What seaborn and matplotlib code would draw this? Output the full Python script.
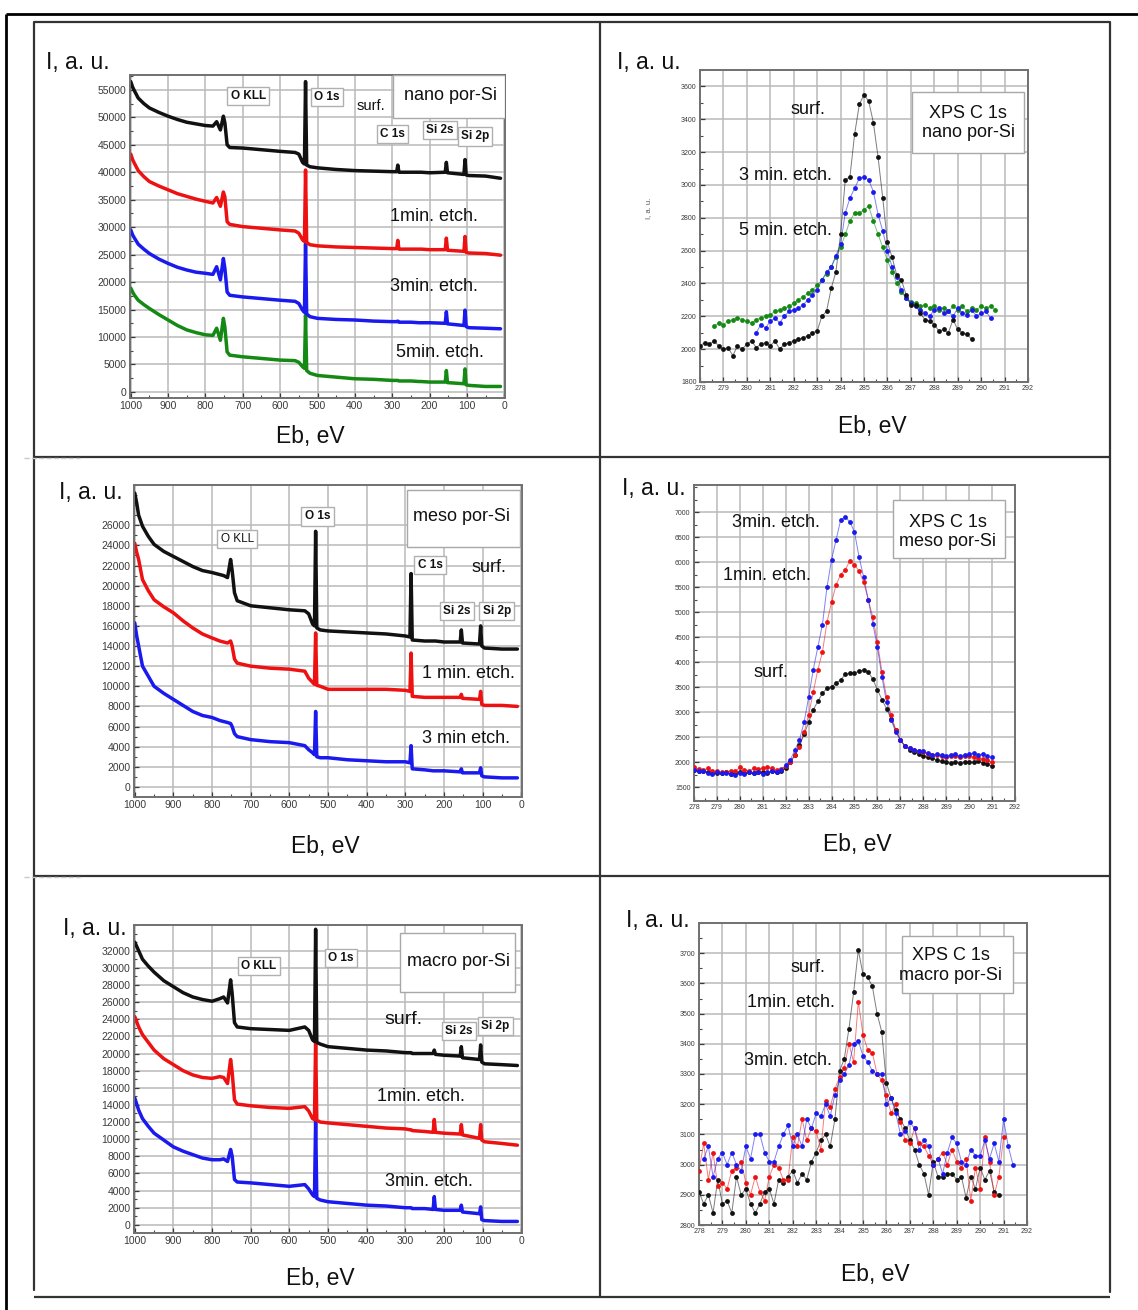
import numpy as np
import pandas as pd
import matplotlib
matplotlib.use("Agg")
import matplotlib.pyplot as plt
import seaborn as sns
from matplotlib.ticker import AutoMinorLocator
from matplotlib.patches import Rectangle

# ---------------- data ----------------
SURVEY_X = [1000, 995, 990, 980, 965, 950, 925, 900, 875, 850,
            825, 800, 780, 770, 760, 752, 748, 742, 735, 700,
            650, 600, 560, 550, 540, 535, 532, 529, 520, 500,
            450, 400, 350, 300, 288, 285, 282, 250, 228, 225,
            222, 200, 158, 155, 152, 108, 105, 102, 95, 50, 10]

nano_surf = [56500, 55500, 54800, 53500, 52500, 51700, 50900, 50200, 49600, 49100,
             48800, 48500, 48400, 49200, 47700, 50200, 49000, 45000, 44500, 44400,
             44100, 43800, 43600, 43300, 41800, 41500, 56500, 41300, 41000, 40800,
             40500, 40300, 40200, 40100, 40100, 41300, 40000, 40000, 40000, 40000,
             40000, 39900, 40000, 41800, 39900, 39600, 42300, 39500, 39400, 39300, 38900]
nano_1min = [43300, 42300, 41600, 40300, 39200, 38300, 37500, 36800, 36100, 35600,
             35100, 34700, 34400, 35400, 33800, 36400, 35500, 31000, 30500, 30100,
             29800, 29500, 29300, 28900, 27700, 27400, 40400, 27200, 26800, 26600,
             26400, 26300, 26200, 26100, 26100, 27600, 26000, 26000, 26000, 26000,
             26000, 25900, 25900, 28000, 25800, 25600, 28300, 25400, 25300, 25200, 24900]
nano_3min = [29500, 28600, 28000, 26900, 26000, 25200, 24200, 23400, 22700, 22200,
             21800, 21600, 21400, 22800, 20400, 24300, 22500, 18200, 17600, 17300,
             17000, 16700, 16500, 16100, 14900, 14500, 27000, 14200, 13700, 13400,
             13200, 13100, 12900, 12800, 12800, 12900, 12700, 12700, 12600, 12600,
             12600, 12600, 12500, 14600, 12400, 12100, 14900, 11900, 11700, 11600, 11500]
nano_5min = [18900, 18200, 17600, 16700, 15900, 15200, 14100, 13100, 12100, 11300,
             10800, 10400, 10300, 11600, 9400, 13400, 11800, 7300, 6700, 6400,
             6100, 5800, 5700, 5400, 4600, 4300, 14000, 3900, 3400, 3000,
             2700, 2400, 2300, 2100, 2100, 2100, 2000, 2000, 1900, 1900,
             1900, 1800, 1800, 3900, 1700, 1500, 4200, 1300, 1200, 1000, 1000]

meso_surf = [29200, 28200, 27000, 25900, 24900, 24100, 23400, 22900, 22400, 21900,
             21500, 21300, 21100, 21000, 20800, 22600, 21500, 19300, 18500, 18000,
             17800, 17600, 17500, 17200, 16200, 16000, 25400, 15800, 15600, 15500,
             15400, 15300, 15200, 15000, 14900, 21200, 14600, 14500, 14500, 14500,
             14500, 14400, 14400, 15600, 14300, 14200, 16000, 14000, 13800, 13700, 13700]
meso_1min = [24200, 23300, 22600, 20600, 19500, 18600, 17900, 17300, 16500, 15800,
             15200, 14800, 14500, 14400, 14300, 14500, 14000, 12700, 12300, 12000,
             11800, 11700, 11500, 10800, 10400, 10200, 15300, 10100, 10000, 9700,
             9700, 9700, 9700, 9600, 9500, 13300, 9000, 8900, 8900, 8900,
             8900, 8900, 8900, 9200, 8800, 8700, 9500, 8200, 8100, 8100, 8000]
meso_3min = [16300, 15000, 14000, 12000, 11000, 10000, 9300, 8700, 8100, 7500,
             7100, 6900, 6600, 6500, 6400, 6300, 6000, 5300, 5000, 4700,
             4500, 4400, 4100, 3700, 3400, 3200, 7500, 3000, 2900, 2900,
             2700, 2600, 2500, 2500, 2400, 4100, 1800, 1700, 1600, 1600,
             1600, 1600, 1500, 1800, 1400, 1400, 1900, 1100, 1000, 900, 900]

macro_surf = [33000, 32500, 32000, 31000, 30200, 29500, 28500, 27800, 27100, 26600,
              26300, 26100, 26400, 26600, 25900, 28600, 27000, 23600, 23100, 22900,
              22800, 22700, 23100, 22700, 21600, 21400, 34500, 21300, 21100, 20800,
              20600, 20400, 20300, 20100, 20100, 20100, 20000, 20000, 20000, 20400,
              19900, 19800, 19700, 20800, 19500, 19300, 21000, 19000, 18800, 18700, 18600]
macro_1min = [24300, 23700, 23100, 22200, 21300, 20400, 19400, 18700, 18000, 17500,
              17200, 17100, 17300, 17200, 16500, 19300, 17800, 14600, 14100, 13900,
              13700, 13600, 13800, 13300, 12400, 12300, 21600, 12200, 12000, 11900,
              11700, 11500, 11300, 11200, 11100, 11100, 11000, 10900, 10800, 12300,
              10800, 10700, 10600, 11700, 10500, 10100, 11700, 9900, 9700, 9500, 9300]
macro_3min = [14800, 14100, 13400, 12400, 11500, 10700, 9900, 9100, 8600, 8200,
              7800, 7600, 7600, 7700, 7400, 8800, 8000, 5300, 5000, 4900,
              4700, 4500, 4700, 4200, 3500, 3300, 12200, 3100, 2900, 2700,
              2500, 2300, 2200, 2000, 2000, 2000, 1900, 1900, 1800, 3300,
              1800, 1700, 1700, 2300, 1500, 1300, 2100, 600, 500, 400, 400]

C1S_X = [278.0, 278.2, 278.4, 278.6, 278.8, 279.0, 279.2, 279.4, 279.6, 279.8,
         280.0, 280.2, 280.4, 280.6, 280.8, 281.0, 281.2, 281.4, 281.6, 281.8,
         282.0, 282.2, 282.4, 282.6, 282.8, 283.0, 283.2, 283.4, 283.6, 283.8,
         284.0, 284.2, 284.4, 284.6, 284.8, 285.0, 285.2, 285.4, 285.6, 285.8,
         286.0, 286.2, 286.4, 286.6, 286.8, 287.0, 287.2, 287.4, 287.6, 287.8,
         288.0, 288.2, 288.4, 288.6, 288.8, 289.0, 289.2, 289.4, 289.6, 289.8,
         290.0, 290.2, 290.4, 290.6, 290.8, 291.0, 291.2, 291.4]

# nano C1s (start energies: surf 278.0, 3 min 280.4, 5 min 278.6)
nano_c1s_surf = [2020, 2040, 2030, 2050, 2020, 2000, 2010, 1960, 2020, 2000,
                 2030, 2050, 2010, 2030, 2040, 2020, 2050, 2000, 2030, 2040,
                 2050, 2060, 2070, 2080, 2100, 2110, 2200, 2230, 2370, 2470,
                 2700, 3030, 3050, 3310, 3490, 3550, 3510, 3380, 3170, 2920,
                 2650, 2560, 2450, 2420, 2330, 2270, 2270, 2220, 2180, 2170,
                 2150, 2110, 2120, 2100, 2180, 2120, 2100, 2090, 2060]
nano_c1s_3min = [2100, 2150, 2130, 2170, 2190, 2160, 2200, 2230, 2240, 2250,
                 2270, 2300, 2330, 2360, 2420, 2470, 2500, 2570, 2640, 2830,
                 2920, 2980, 3040, 3050, 3030, 2960, 2820, 2720, 2600, 2500,
                 2440, 2360, 2310, 2280, 2260, 2240, 2220, 2200, 2240, 2250,
                 2220, 2230, 2200, 2250, 2220, 2210, 2240, 2200, 2220, 2230, 2190]
nano_c1s_5min = [2140, 2160, 2150, 2170, 2180, 2190, 2180, 2170, 2160, 2180,
                 2190, 2200, 2210, 2230, 2240, 2250, 2260, 2280, 2300, 2320,
                 2340, 2360, 2390, 2420, 2460, 2500, 2560, 2620, 2700, 2780,
                 2830, 2830, 2850, 2870, 2780, 2700, 2620, 2540, 2470, 2400,
                 2350, 2310, 2290, 2280, 2260, 2270, 2250, 2260, 2240, 2250,
                 2230, 2260, 2240, 2260, 2230, 2250, 2240, 2260, 2250, 2260, 2240]

# meso C1s (all start at 278.0)
meso_c1s_surf = [1850, 1830, 1820, 1800, 1780, 1790, 1780, 1800, 1770, 1790,
                 1810, 1790, 1800, 1780, 1810, 1800, 1790, 1820, 1810, 1830,
                 1880, 2000, 2150, 2350, 2560, 2800, 3050, 3220, 3380, 3480,
                 3510, 3580, 3650, 3760, 3780, 3790, 3820, 3850, 3810, 3660,
                 3450, 3250, 3070, 2870, 2650, 2450, 2320, 2250, 2210, 2160,
                 2120, 2100, 2080, 2040, 2020, 2000, 1980, 2010, 1980, 2000,
                 2010, 2000, 2020, 1990, 1960, 1920]
meso_c1s_1min = [1900, 1870, 1850, 1880, 1830, 1820, 1800, 1810, 1830, 1820,
                 1900, 1850, 1830, 1880, 1870, 1890, 1900, 1880, 1850, 1870,
                 1920, 2000, 2150, 2300, 2600, 2950, 3400, 3850, 4200, 4800,
                 5200, 5550, 5750, 5850, 6030, 5950, 5820, 5600, 5250, 4900,
                 4400, 3800, 3300, 2950, 2650, 2450, 2330, 2280, 2240, 2230,
                 2200, 2170, 2150, 2150, 2130, 2100, 2120, 2130, 2100, 2120,
                 2130, 2100, 2080, 2060, 2050, 2000]
meso_c1s_3min = [1850, 1820, 1830, 1790, 1760, 1800, 1780, 1790, 1760, 1740,
                 1780, 1770, 1800, 1790, 1800, 1760, 1810, 1830, 1800, 1850,
                 1950, 2050, 2250, 2450, 2800, 3300, 3850, 4300, 4750, 5500,
                 6050, 6450, 6850, 6900, 6800, 6600, 6100, 5700, 5250, 4770,
                 4300, 3700, 3200, 2850, 2600, 2450, 2330, 2280, 2250, 2230,
                 2220, 2180, 2150, 2170, 2140, 2130, 2150, 2160, 2130, 2150,
                 2160, 2190, 2150, 2170, 2120, 2100]

# macro C1s (surf 278.0, 1 min 278.0, 3 min 278.2)
macro_c1s_surf = [2910, 2870, 2900, 2840, 2950, 2870, 2880, 2840, 2960, 2900,
                  2920, 2870, 2840, 2870, 2910, 2920, 2870, 2950, 2940, 2960,
                  2980, 2940, 2970, 2950, 3010, 3040, 3080, 3100, 3060, 3150,
                  3310, 3350, 3450, 3570, 3710, 3630, 3620, 3590, 3500, 3440,
                  3270, 3220, 3180, 3150, 3120, 3080, 3050, 3000, 2970, 2900,
                  3010, 2960, 2960, 2970, 2970, 2950, 2960, 2890, 2960, 2920,
                  2990, 2950, 2980, 2910, 2900]
macro_c1s_1min = [2980, 3070, 2950, 3040, 2930, 2940, 2920, 2980, 2990, 3010,
                  2940, 2900, 2960, 2910, 2880, 2960, 3000, 2990, 2950, 2950,
                  3090, 3060, 3150, 3080, 3120, 3110, 3050, 3210, 3190, 3250,
                  3290, 3320, 3400, 3340, 3540, 3430, 3380, 3370, 3300, 3280,
                  3230, 3170, 3200, 3140, 3080, 3070, 3120, 3070, 3060, 3030,
                  3000, 3020, 3040, 3000, 3050, 3010, 2990, 3020, 2880, 2990,
                  2920, 3090, 3010, 2900, 2960, 3090]
macro_c1s_3min = [3020, 3060, 2960, 3020, 3040, 3000, 3040, 3000, 2980, 3060,
                  3020, 3100, 3100, 3040, 3010, 3010, 3060, 3100, 3130, 3060,
                  3100, 3060, 3150, 3120, 3170, 3160, 3200, 3160, 3230, 3280,
                  3300, 3330, 3400, 3410, 3360, 3340, 3310, 3300, 3300, 3200,
                  3220, 3170, 3100, 3110, 3140, 3120, 3050, 3080, 3060, 3000,
                  3020, 2970, 3040, 3090, 3070, 3010, 3000, 3050, 3030, 3030,
                  3080, 3020, 3070, 3010, 3150, 3060, 3000]

SURVEY_XTICKS = [1000, 900, 800, 700, 600, 500, 400, 300, 200, 100, 0]
C1S_XTICKS = [278, 279, 280, 281, 282, 283, 284, 285, 286, 287, 288, 289, 290, 291, 292]

BLACK, RED, BLUE, GREEN = "#111111", "#ee1111", "#1a1aee", "#148a14"

# ---------------- figure ----------------
sns.set_theme(style="white")
plt.rcParams['font.family'] = ['Liberation Sans', 'DejaVu Sans']

W, H = 1138, 1310
fig = plt.figure(figsize=(W / 100, H / 100), dpi=100)
fig.patch.set_facecolor("white")

bg = fig.add_axes([0, 0, 1, 1])
bg.set_xlim(0, W)
bg.set_ylim(H, 0)
bg.axis("off")


def px_axes(x0, y0, x1, y1):
    return fig.add_axes([x0 / W, 1 - y1 / H, (x1 - x0) / W, (y1 - y0) / H])


def style(ax, xlim, ylim, xticks, yticks, fs):
    ax.set_xlim(*xlim)
    ax.set_ylim(*ylim)
    ax.set_xticks(xticks)
    ax.set_yticks(yticks)
    ax.xaxis.set_minor_locator(AutoMinorLocator(2))
    ax.yaxis.set_minor_locator(AutoMinorLocator(2))
    ax.grid(True, which="major", color="#b9b9b9", lw=1.1)
    ax.set_axisbelow(True)
    ax.tick_params(which="major", direction="in", length=3.5, width=0.9,
                   labelsize=fs, colors="#3a3a3a", pad=2.5,
                   bottom=True, left=True)
    ax.tick_params(which="minor", direction="in", length=2, width=0.8,
                   colors="#4a4a4a", bottom=True, left=True)
    for s in ax.spines.values():
        s.set_color("#707070")
        s.set_linewidth(1.4)
    ax.set_xlabel("")
    ax.set_ylabel("")
    ax.set_facecolor("white")


def survey(ax, ys, color):
    sns.lineplot(x=SURVEY_X, y=ys, ax=ax, color=color, lw=2.5,
                 estimator=None, sort=False, legend=False)


def c1s(ax, ys, color, start):
    i0 = C1S_X.index(start)
    xs = C1S_X[i0:i0 + len(ys)]
    sns.lineplot(x=xs, y=ys, ax=ax, color=color, lw=0.7, alpha=0.55,
                 estimator=None, sort=False, legend=False)
    sns.scatterplot(x=xs, y=ys, ax=ax, color=color, s=12, linewidth=0,
                    legend=False, zorder=3)


def tag(ax, x, y, s, fs=8.5, bold=True):
    ax.text(x, y, s, transform=ax.transAxes, ha="center", va="center",
            fontsize=fs, fontweight="bold" if bold else "normal", color="#111",
            bbox=dict(boxstyle="square,pad=0.28", fc="white", ec="#b0b0b0", lw=1.0),
            zorder=6)


def label(ax, x, y, s, fs=13):
    ax.text(x, y, s, transform=ax.transAxes, ha="center", va="center",
            fontsize=fs, color="#111", zorder=6)


def box(ax, x0, y0, x1, y1):
    ax.add_patch(Rectangle((x0, y0), x1 - x0, y1 - y0, transform=ax.transAxes,
                           fc="white", ec="#a8a8a8", lw=1.0, zorder=4))


# ---- panel 1: nano survey
ax1 = px_axes(130, 75, 505, 398)
style(ax1, (1002, -2), (-1100, 57700), SURVEY_XTICKS, list(range(0, 55001, 5000)), 7.5)
survey(ax1, nano_5min, GREEN)
survey(ax1, nano_3min, BLUE)
survey(ax1, nano_1min, RED)
survey(ax1, nano_surf, BLACK)
box(ax1, 0.70, 0.867, 1.0, 1.0)
label(ax1, 0.856, 0.938, "nano por-Si")
tag(ax1, 0.315, 0.935, "O KLL")
tag(ax1, 0.526, 0.932, "O 1s")
label(ax1, 0.642, 0.905, "surf.", fs=10.5)
tag(ax1, 0.70, 0.817, "C 1s")
tag(ax1, 0.826, 0.83, "Si 2s")
tag(ax1, 0.92, 0.81, "Si 2p")
label(ax1, 0.81, 0.563, "1min. etch.")
label(ax1, 0.81, 0.344, "3min. etch.")
label(ax1, 0.826, 0.142, "5min. etch.")

# ---- panel 2: nano C1s
ax2 = px_axes(700, 70, 1028, 382)
style(ax2, (278, 292), (1800, 3700), C1S_XTICKS, list(range(1800, 3601, 200)), 5)
c1s(ax2, nano_c1s_5min, GREEN, 278.6)
c1s(ax2, nano_c1s_3min, BLUE, 280.4)
c1s(ax2, nano_c1s_surf, BLACK, 278.0)
box(ax2, 0.646, 0.734, 0.988, 0.929)
label(ax2, 0.818, 0.83, "XPS C 1s\nnano por-Si")
label(ax2, 0.33, 0.872, "surf.")
label(ax2, 0.26, 0.663, "3 min. etch.")
label(ax2, 0.26, 0.487, "5 min. etch.")

# ---- panel 3: meso survey
ax3 = px_axes(134, 485, 522, 797)
style(ax3, (1002, -2), (-1000, 30000), SURVEY_XTICKS, list(range(0, 26001, 2000)), 7.5)
survey(ax3, meso_3min, BLUE)
survey(ax3, meso_1min, RED)
survey(ax3, meso_surf, BLACK)
box(ax3, 0.704, 0.80, 0.995, 0.984)
label(ax3, 0.843, 0.90, "meso por-Si")
tag(ax3, 0.266, 0.827, "O KLL", bold=False)
tag(ax3, 0.473, 0.90, "O 1s")
tag(ax3, 0.763, 0.744, "C 1s")
label(ax3, 0.914, 0.737, "surf.")
tag(ax3, 0.832, 0.596, "Si 2s")
tag(ax3, 0.935, 0.596, "Si 2p")
label(ax3, 0.862, 0.397, "1 min. etch.")
label(ax3, 0.855, 0.189, "3 min etch.")

# ---- panel 4: meso C1s
ax4 = px_axes(694, 485, 1015, 801)
style(ax4, (278, 292), (1230, 7540), C1S_XTICKS, list(range(1500, 7001, 500)), 5)
c1s(ax4, meso_c1s_surf, BLACK, 278.0)
c1s(ax4, meso_c1s_1min, RED, 278.0)
c1s(ax4, meso_c1s_3min, BLUE, 278.0)
box(ax4, 0.621, 0.769, 0.97, 0.953)
label(ax4, 0.79, 0.851, "XPS C 1s\nmeso por-Si")
label(ax4, 0.256, 0.88, "3min. etch.")
label(ax4, 0.226, 0.715, "1min. etch.")
label(ax4, 0.24, 0.408, "surf.")

# ---- panel 5: macro survey
ax5 = px_axes(134, 925, 522, 1233)
style(ax5, (1002, -2), (-950, 35000), SURVEY_XTICKS, list(range(0, 32001, 2000)), 7.5)
survey(ax5, macro_3min, BLUE)
survey(ax5, macro_1min, RED)
survey(ax5, macro_surf, BLACK)
box(ax5, 0.686, 0.782, 0.982, 0.974)
label(ax5, 0.837, 0.883, "macro por-Si")
tag(ax5, 0.322, 0.867, "O KLL")
tag(ax5, 0.533, 0.893, "O 1s")
label(ax5, 0.695, 0.692, "surf.", fs=14)
tag(ax5, 0.837, 0.656, "Si 2s")
tag(ax5, 0.932, 0.672, "Si 2p")
label(ax5, 0.74, 0.442, "1min. etch.")
label(ax5, 0.76, 0.166, "3min. etch.")

# ---- panel 6: macro C1s
ax6 = px_axes(699, 923, 1027, 1225)
style(ax6, (278, 292), (2800, 3800), C1S_XTICKS, list(range(2800, 3701, 100)), 5)
c1s(ax6, macro_c1s_surf, BLACK, 278.0)
c1s(ax6, macro_c1s_1min, RED, 278.0)
c1s(ax6, macro_c1s_3min, BLUE, 278.2)
box(ax6, 0.62, 0.768, 0.956, 0.957)
label(ax6, 0.767, 0.86, "XPS C 1s\nmacro por-Si")
label(ax6, 0.333, 0.854, "surf.")
label(ax6, 0.28, 0.738, "1min. etch.")
label(ax6, 0.27, 0.546, "3min. etch.")

# ---- axis titles in figure pixels
for (x, y) in [(46, 62), (617, 62), (59, 493), (622, 488), (63, 928), (626, 920)]:
    bg.text(x, y, "I, a. u.", ha="left", va="center", fontsize=16.5, color="#111")
for (x, y) in [(310, 437), (872, 427), (325, 847), (857, 845), (320, 1278), (875, 1275)]:
    bg.text(x, y, "Eb, eV", ha="center", va="center", fontsize=16.5, color="#111")
bg.text(649, 208, "I, a. u.", rotation=90, ha="center", va="center",
        fontsize=5.5, color="#555")

# ---- frame lines
bg.plot([6, 1138], [14, 14], color="black", lw=2.0, solid_capstyle="butt")
bg.plot([6, 6], [14, 1310], color="black", lw=2.0, solid_capstyle="butt")
for yy in [22, 457, 876, 1297]:
    bg.plot([34, 1110], [yy, yy], color="#333333", lw=1.6, solid_capstyle="butt")
bg.plot([34, 34], [22, 1290], color="#333333", lw=1.6)
bg.plot([600, 600], [22, 1297], color="#333333", lw=1.6)
bg.plot([1110, 1110], [22, 1292], color="#333333", lw=1.6)
for yy in [457, 876]:
    bg.plot([24, 80], [yy + 1, yy + 1], color="#c8c8c8", lw=1.0, ls="--")

fig.savefig("out.png", dpi=100, facecolor="white")
